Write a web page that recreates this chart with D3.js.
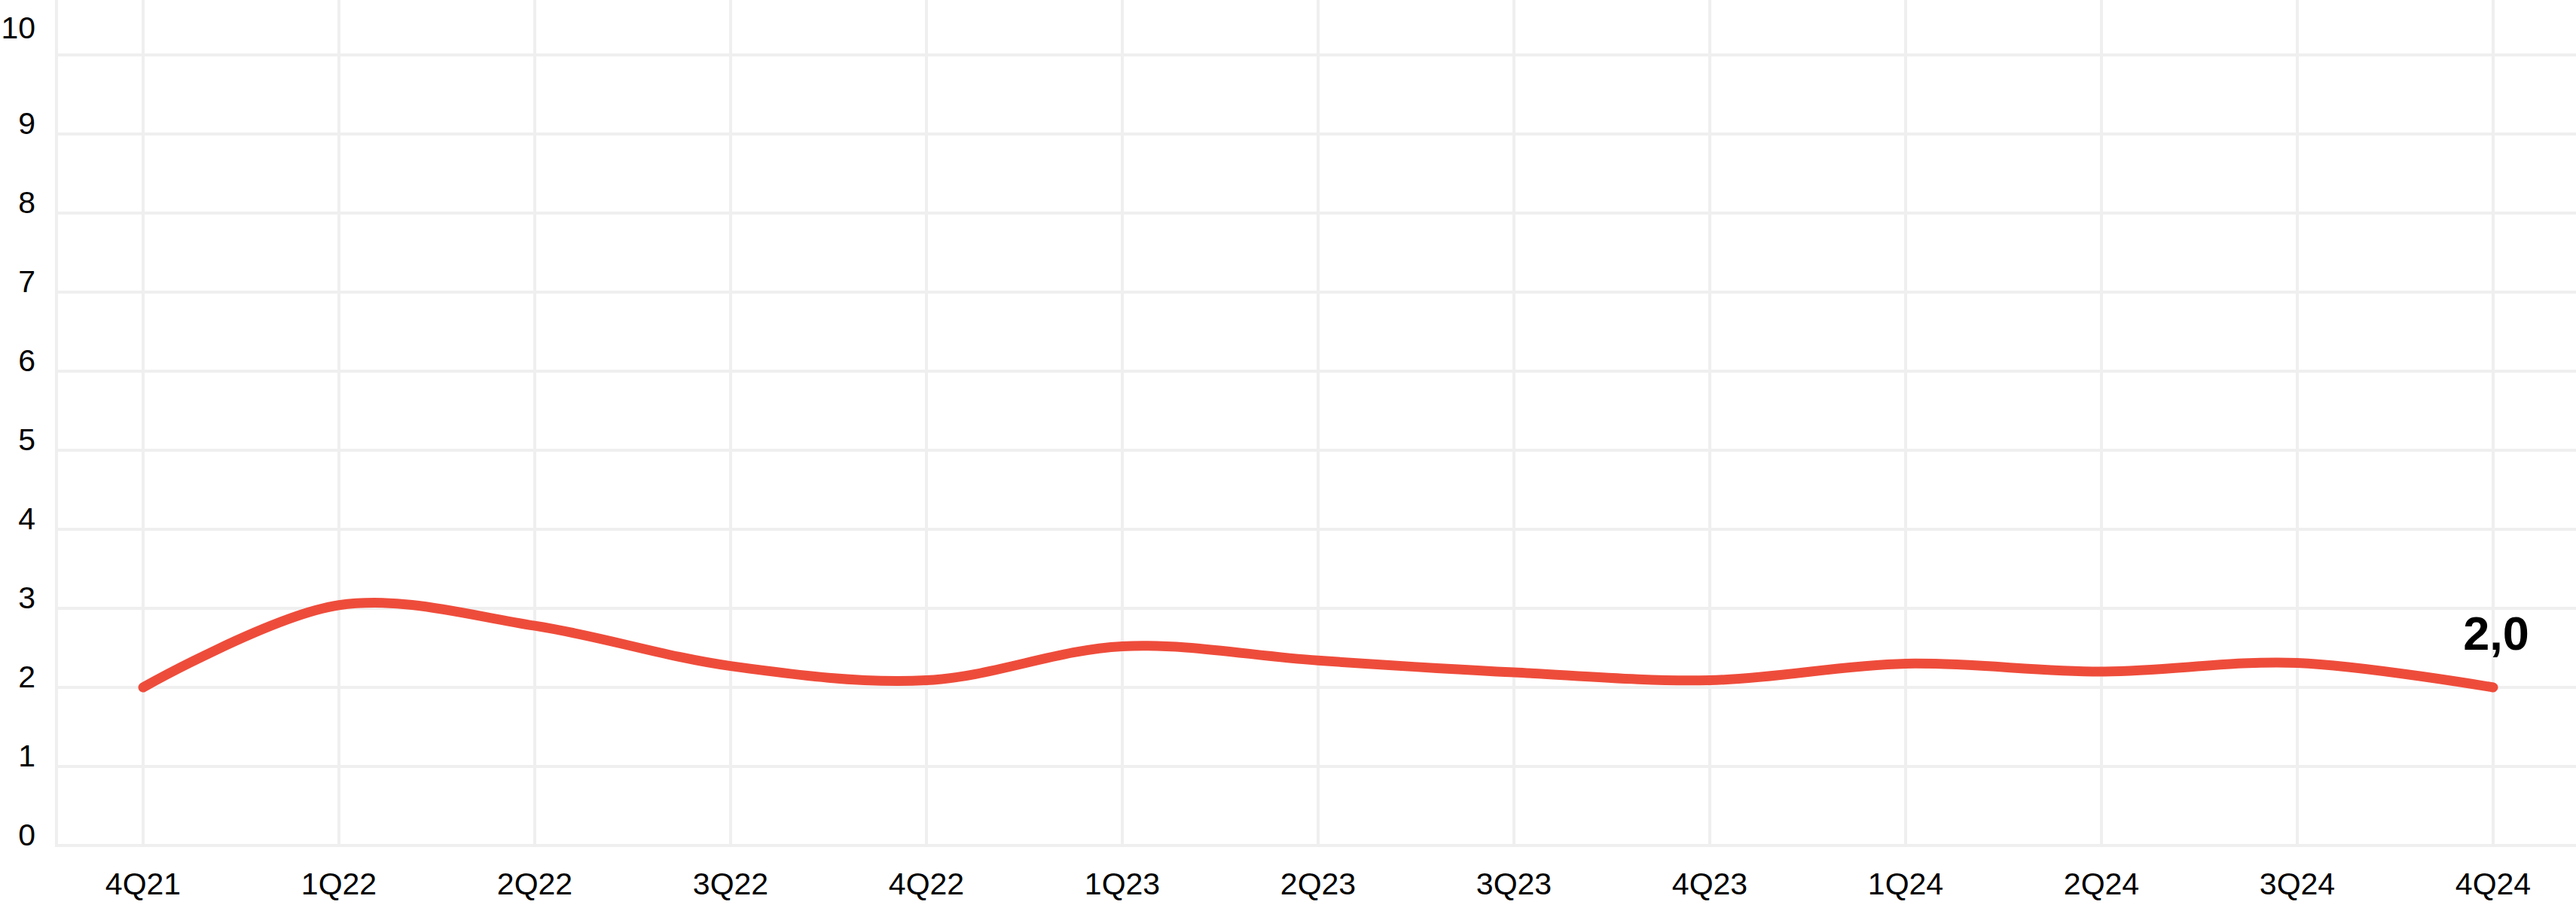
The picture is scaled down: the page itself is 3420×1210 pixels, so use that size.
<!DOCTYPE html>
<html>
<head>
<meta charset="utf-8">
<script src="https://cdn.jsdelivr.net/npm/d3@7"></script>
<style>
  html, body { margin: 0; padding: 0; background: #fff; }
  svg { display: block; }
  text { font-family: "Liberation Sans", Arial, sans-serif; fill: #000; }
</style>
</head>
<body>
<svg id="chart" width="3420" height="1210"></svg>
<script>
const categories = ["4Q21","1Q22","2Q22","3Q22","4Q22","1Q23","2Q23","3Q23","4Q23","1Q24","2Q24","3Q24","4Q24"];
const values = [2.0, 3.04, 2.78, 2.27, 2.09, 2.52, 2.34, 2.19, 2.09, 2.30, 2.20, 2.31, 2.0];
const yTicks = [0,1,2,3,4,5,6,7,8,9,10];
const lastLabel = "2,0";

const W = 3420, H = 1210;
const plotLeft = 75, plotRight = 3420, plotTop = 0, plotBottom = 1123;

const svg = d3.select("#chart");

const x = d3.scalePoint().domain(categories).range([190, 3310]);
const y = d3.scaleLinear().domain([0, 10]).range([plotBottom, 73]);

const gridColor = "#efefef";
const gw = 4;

// horizontal grid
svg.append("g").selectAll("line").data(yTicks).join("line")
  .attr("x1", plotLeft).attr("x2", plotRight)
  .attr("y1", d => y(d)).attr("y2", d => y(d))
  .attr("stroke", gridColor).attr("stroke-width", gw);

// left boundary
svg.append("line")
  .attr("x1", plotLeft).attr("x2", plotLeft)
  .attr("y1", plotTop).attr("y2", plotBottom + gw/2)
  .attr("stroke", gridColor).attr("stroke-width", gw);

// vertical grid
svg.append("g").selectAll("line").data(categories).join("line")
  .attr("x1", d => x(d)).attr("x2", d => x(d))
  .attr("y1", plotTop).attr("y2", plotBottom)
  .attr("stroke", gridColor).attr("stroke-width", gw);

// y labels
svg.append("g").selectAll("text").data(yTicks).join("text")
  .attr("x", 47)
  .attr("y", d => d === 10 ? y(d) - 22 : y(d))
  .attr("text-anchor", "end")
  .attr("font-size", 41)
  .text(d => d);

// x labels
svg.append("g").selectAll("text").data(categories).join("text")
  .attr("x", d => x(d))
  .attr("y", 1188)
  .attr("text-anchor", "middle")
  .attr("font-size", 41)
  .text(d => d);

// line
const line = d3.line()
  .x((d, i) => x(categories[i]))
  .y(d => y(d))
  .curve(d3.curveCatmullRom.alpha(0.5));

svg.append("path")
  .datum(values)
  .attr("d", line)
  .attr("fill", "none")
  .attr("stroke", "#ee4c3b")
  .attr("stroke-width", 13)
  .attr("stroke-linecap", "round")
  .attr("stroke-linejoin", "round");

// last value label
const li = values.length - 1;
svg.append("text")
  .attr("x", x(categories[li]) + 4)
  .attr("y", y(values[li]) - 50)
  .attr("text-anchor", "middle")
  .attr("font-size", 63)
  .attr("font-weight", "bold")
  .text(lastLabel);
</script>
</body>
</html>
